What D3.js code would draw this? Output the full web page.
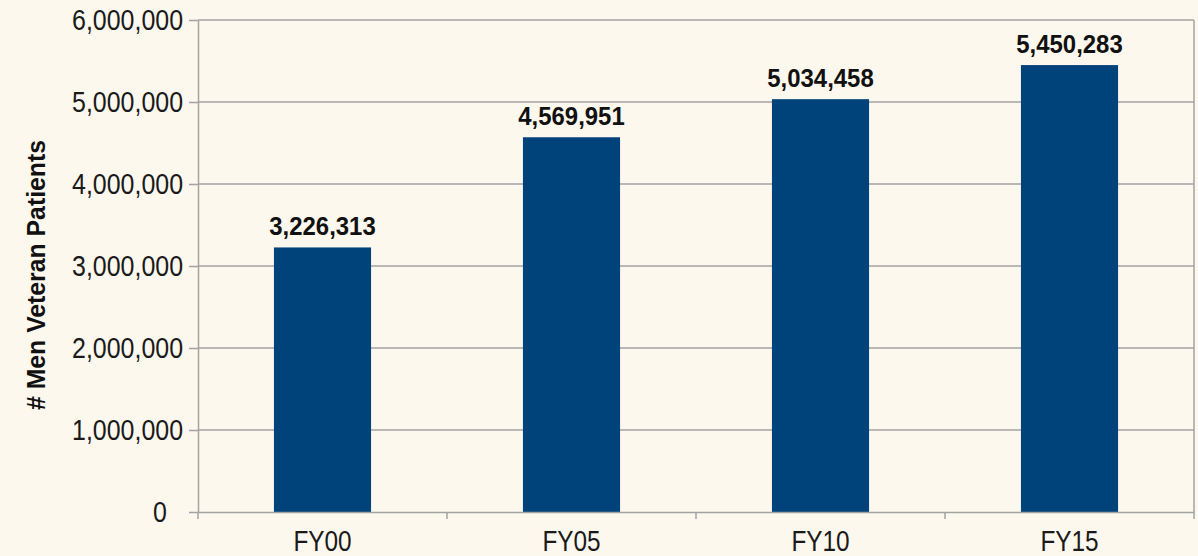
<!DOCTYPE html>
<html>
<head>
<meta charset="utf-8">
<script src="https://cdn.jsdelivr.net/npm/d3@7"></script>
<style>
  html, body { margin: 0; padding: 0; background: #fdf8ee; }
  svg { display: block; }
</style>
</head>
<body>
<svg></svg>
<script>
const categories = ["FY00", "FY05", "FY10", "FY15"];
const values = [3226313, 4569951, 5034458, 5450283];
const yTicks = [0, 1000000, 2000000, 3000000, 4000000, 5000000, 6000000];
const yTitle = "# Men Veteran Patients";

let width = 1198
let height = 556
const margin = {top: 20, right: 4, bottom: 44, left: 198};
const font = "'Liberation Sans', Arial, sans-serif";

// squeeze text horizontally to mimic a narrow face
function narrow(sel, factor) {
    sel.each(function () {
        const len = this.getComputedTextLength();
        d3.select(this)
            .attr("textLength", len * factor)
            .attr("lengthAdjust", "spacingAndGlyphs");
    });
}

const svg = d3.select("svg")
    .attr("width", width)
    .attr("height", height);

svg.append("rect")
    .attr("width", width)
    .attr("height", height)
    .attr("fill", "#fdf8ee");

const x = d3.scaleBand()
    .domain(categories)
    .range([margin.left, width - margin.right])
    .paddingInner(0.61)
    .paddingOuter(0.305);

const y = d3.scaleLinear()
    .domain([0, 6000000])
    .range([height - margin.bottom, margin.top]);

// gridlines
svg.append("g")
    .selectAll("line")
    .data(yTicks.filter(d => d > 0))
    .join("line")
    .attr("x1", margin.left)
    .attr("x2", width - margin.right)
    .attr("y1", d => y(d))
    .attr("y2", d => y(d))
    .attr("stroke", "#a3a3a3")
    .attr("stroke-width", 1.5);

// right border
svg.append("line")
    .attr("x1", width - margin.right)
    .attr("x2", width - margin.right)
    .attr("y1", margin.top)
    .attr("y2", height - margin.bottom)
    .attr("stroke", "#a3a3a3")
    .attr("stroke-width", 1.5);

// bars
svg.append("g")
    .selectAll("rect")
    .data(values)
    .join("rect")
    .attr("x", (d, i) => x(categories[i]))
    .attr("y", d => y(d))
    .attr("width", x.bandwidth())
    .attr("height", d => y(0) - y(d))
    .attr("fill", "#00427a");

// value labels
svg.append("g")
    .selectAll("text")
    .data(values)
    .join("text")
    .attr("x", (d, i) => x(categories[i]) + x.bandwidth() / 2)
    .attr("y", d => y(d) - 12)
    .attr("text-anchor", "middle")
    .attr("font-family", font)
    .attr("font-weight", "bold")
    .attr("font-size", 26)
    .attr("fill", "#111")
    .text(d => d3.format(",")(d))
    .call(narrow, 0.92);

// y axis
const yAxis = svg.append("g")
    .attr("transform", `translate(${margin.left},0)`)
    .call(d3.axisLeft(y).tickValues(yTicks).tickFormat(d3.format(",")).tickSize(9).tickSizeOuter(0));
yAxis.selectAll("line, path").attr("stroke", "#a3a3a3").attr("stroke-width", 1.5);
yAxis.selectAll("text")
    .attr("font-family", font)
    .attr("font-size", 29)
    .attr("fill", "#1a1a1a")
    .attr("x", d => d === 0 ? -31 : -15)
    .attr("dy", "0.34em")
    .call(narrow, 0.86);

// x axis
const xAxis = svg.append("g")
    .attr("transform", `translate(0,${height - margin.bottom})`)
    .call(d3.axisBottom(x).tickSize(0).tickSizeOuter(0));
xAxis.select("path").attr("stroke", "#a3a3a3").attr("stroke-width", 1.5);
xAxis.selectAll("text")
    .attr("font-family", font)
    .attr("font-size", 29)
    .attr("fill", "#1a1a1a")
    .attr("y", 39)
    .attr("dy", 0)
    .call(narrow, 0.84);

// x ticks at band boundaries
const bounds = d3.range(categories.length + 1).map(i => margin.left + i * (width - margin.left - margin.right) / categories.length);
xAxis.selectAll(".bound")
    .data(bounds)
    .join("line")
    .attr("class", "bound")
    .attr("x1", d => d)
    .attr("x2", d => d)
    .attr("y1", 0)
    .attr("y2", 7)
    .attr("stroke", "#a3a3a3")
    .attr("stroke-width", 1.5);

// y title
svg.append("text")
    .attr("transform", `translate(45,275) rotate(-90)`)
    .attr("text-anchor", "middle")
    .attr("font-family", font)
    .attr("font-weight", "bold")
    .attr("font-size", 26)
    .attr("fill", "#111")
    .attr("textLength", 270)
    .attr("lengthAdjust", "spacingAndGlyphs")
    .text(yTitle);
</script>
</body>
</html>
